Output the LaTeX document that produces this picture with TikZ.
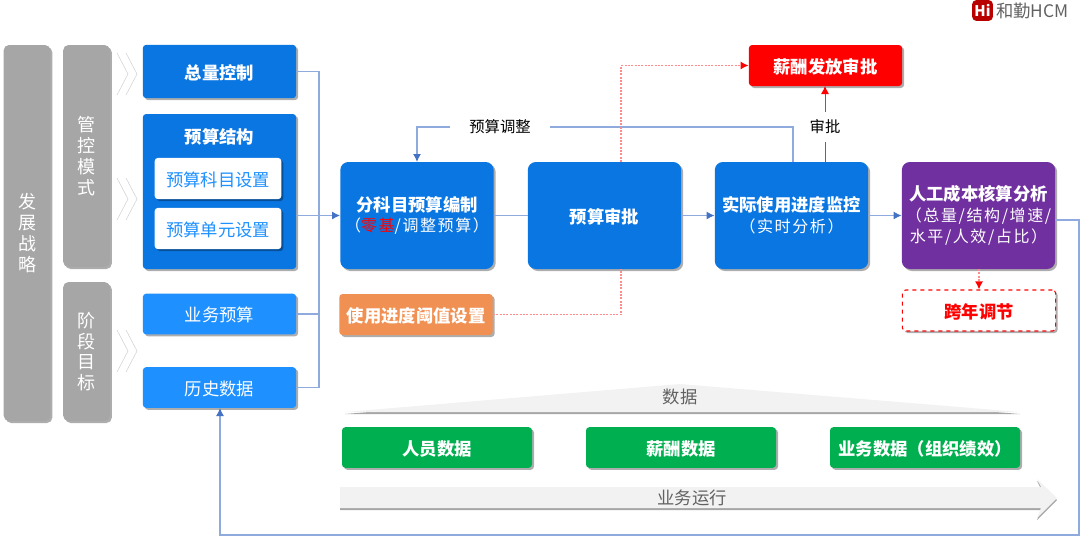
\documentclass[tikz,border=0pt]{standalone}
\usepackage{fontspec}
\setmainfont{Noto Sans CJK SC}
\newfontfamily\subfont[LetterSpace=10]{Noto Sans CJK SC}
\newcommand{\subtext}{\fontsize{12pt}{19pt}\subfont\mdseries}
\usetikzlibrary{arrows.meta,shadows,calc,positioning}

\definecolor{deepblue}{HTML}{0A76E2}
\definecolor{liteblue}{HTML}{1E90FF}
\definecolor{linkblue}{HTML}{8FAADC}
\definecolor{tipblue}{HTML}{4472C4}
\definecolor{paneorange}{HTML}{F09052}
\definecolor{panepurple}{HTML}{7030A0}
\definecolor{panegreen}{HTML}{00B050}

\begin{document}
\begin{tikzpicture}[
    x=0.75pt, y=-0.75pt,
    font=\fontsize{13pt}{16pt}\selectfont,
    boxshadow/.style    = {general shadow={shadow xshift=1.5pt, shadow yshift=-1.5pt,
                           fill=black, opacity=0.32}},
    panel/.style        = {rounded corners=2.5pt, inner sep=0pt, align=center,
                           text=white, boxshadow,
                           execute at begin node={\rule{0pt}{13pt}}},
    deep-box/.style     = {panel, fill=deepblue, font=\fontsize{13pt}{16pt}\selectfont\bfseries,
                           minimum width=115pt},
    lite-box/.style     = {panel, fill=liteblue, minimum width=115pt, minimum height=30.5pt},
    white-box/.style    = {panel, fill=white, text=liteblue, minimum width=95pt,
                           minimum height=31pt},
    step-box/.style     = {deep-box, rounded corners=6pt, minimum height=80.25pt},
    side-bar/.style     = {panel, rounded corners=4pt, fill=black!35, minimum width=35pt,
                           text=white, font=\fontsize{13.5pt}{15.6pt}\selectfont,
                           execute at begin node={}},
    data-box/.style     = {panel, fill=panegreen, font=\fontsize{13pt}{16pt}\selectfont\bfseries,
                           minimum width=142.5pt, minimum height=30.5pt},
    link/.style         = {draw=linkblue, line width=0.9pt},
    link-tip/.style     = {link, -{Latex[length=6pt,width=6pt,color=tipblue]}},
    red-tip/.style      = {red!85, line width=0.6pt, -{Latex[length=6pt,width=6pt,color=red]}},
    dot-link/.style     = {draw=red!45, line width=1pt, dash pattern=on 1.5pt off 1pt},
    dot-tip/.style      = {dot-link, -{Latex[length=6pt,width=6pt,color=red]}},
    chevron/.style      = {draw=black!18, line width=0.4pt},
    bandfill/.style     = {fill=black!5, general shadow={shadow yshift=-1.5pt, fill=black!35}},
    bandlabel/.style    = {text=black!62, inner sep=0pt}
  ]
\useasboundingbox (0,0) rectangle (1080,536);

% =========================================================
% Left columns
% =========================================================
\node[side-bar, minimum height=282pt] (strategy) at (27,233) {发\\展\\战\\略};
\node[side-bar, minimum height=166.5pt] (mode) at (86.5,156) {管\\控\\模\\式};
\node[side-bar, minimum height=104.25pt] (stage) at (86.5,351.5) {阶\\段\\目\\标};

% Double chevrons
\foreach \cy in {74,199,351} {
  \draw[chevron] (117,\cy-21) -- (128,\cy) -- (117,\cy+21);
  \draw[chevron] (126,\cy-21) -- (137,\cy) -- (126,\cy+21);
}

% =========================================================
% Budget inputs
% =========================================================
\node[deep-box, minimum height=40pt] (total) at (219.5,71.5) {总量控制};
\node[deep-box, minimum height=116.25pt] (structure) at (219.5,191.5) {};
\node[text=white, font=\fontsize{13pt}{16pt}\selectfont\bfseries] (structuretitle) at (219.5,137) {预算结构};
\node[white-box] (subjectset) at (218,178.5) {预算科目设置};
\node[white-box] (unitset) at (218,228.5) {预算单元设置};
\node[lite-box] (bizbudget) at (219.5,314) {业务预算};
\node[lite-box] (history) at (219.5,387.5) {历史数据};

% =========================================================
% Main process
% =========================================================
\node[step-box] (compile) at (417,215.5) {分科目预算编制\\[-0.5pt]
  {\subtext （\textcolor{red}{零基}/调整预算）}};
\node[step-box] (approve) at (604.5,215.5) {预算审批};
\node[step-box] (monitor) at (791.5,215.5) {实际使用进度监控\\[-0.5pt]
  {\subtext （实时分析）}};
\node[step-box, fill=panepurple] (analysis) at (978.5,215.5) {人工成本核算分析\\[0pt]
  {\subtext （总量/结构/增速/}\\[0pt]{\subtext 水平/人效/占比）}};
\node[deep-box, fill=red, minimum height=30.75pt] (payapprove) at (825.5,65.5) {薪酬发放审批};
\node[deep-box, fill=paneorange, minimum height=30.75pt] (threshold) at (416,314.5) {使用进度阈值设置};
\node[panel, fill=white, draw=red, dashed, line width=0.8pt, text=red,
      font=\fontsize{13pt}{16pt}\selectfont\bfseries,
      minimum width=115pt, minimum height=30.75pt] (carryover) at (979,310.5) {跨年调节};

\node[minimum width=75pt, minimum height=20pt, inner sep=0pt, font=\fontsize{11.5pt}{14pt}\selectfont] (adjust) at (500,127) {预算调整};
\node[minimum height=22.5pt, inner sep=0pt, font=\fontsize{11.5pt}{14pt}\selectfont] (audit) at (825,127) {审批};

% =========================================================
% Data and business bands
% =========================================================
\path[bandfill] (345,412) -- (680,384) -- (1020,412) -- cycle;
\node[bandlabel] (datatitle) at (680,397) {数据};
\node[data-box] (staffdata) at (437,447.5) {人员数据};
\node[data-box] (paydata) at (681,447.5) {薪酬数据};
\node[data-box] (bizdata) at (925,447.5) {业务数据（组织绩效）};
\path[bandfill] (340,487) -- (1041,487) -- (1037,479) -- (1057,498)
  -- (1037,518) -- (1041,508) -- (340,508) -- cycle;
\node[bandlabel] (runtitle) at (692,498) {业务运行};

% =========================================================
% Logo
% =========================================================
\node[rounded corners=3pt, fill=red!72!black, text=white, inner sep=0pt,
      minimum width=15.5pt, minimum height=15.5pt,
      font=\fontsize{11pt}{11pt}\selectfont\bfseries] (logomark) at (982.5,10.5) {Hi};
\node[right=2pt of logomark, inner sep=0pt, text=black!62,
      font=\fontsize{13pt}{15pt}\selectfont] (logotext) {和勤HCM};

% =========================================================
% Connectors
% =========================================================
\coordinate (busbar) at (319,215);
\draw[link] (total.east) -| (busbar);
\draw[link] (history.east) -| (busbar);
\draw[link] (bizbudget.east) -- (bizbudget.east -| busbar);
\draw[link-tip] (structure.east |- compile.west) -- (compile.west);
\draw[link] (compile.east) -- (approve.west);
\draw[link-tip] (approve.east) -- (monitor.west);
\draw[link-tip] (monitor.east) -- (analysis.west);

\coordinate (adjustfrom) at (793,162);
\coordinate (adjustto) at (417,162);
\draw[link] (adjustfrom) |- (adjust.east);
\draw[link-tip] (adjust.west) -| (adjustto);

\coordinate (auditfrom) at (825,162);
\coordinate (auditto) at (825,86);
\draw[draw=red!85, line width=0.6pt] (auditfrom) -- (audit.south);
\draw[red-tip] (audit.north) -- (auditto);

\coordinate (gatelow) at (621,269);
\coordinate (gatehigh) at (621,162);
\draw[dot-link] (threshold.east) -| (gatelow);
\draw[dot-tip] (gatehigh) |- (payapprove.west);
\coordinate (carryfrom) at (979,269);
\draw[dot-tip] (carryfrom) -- (carryover.north);

\coordinate (returnfrom) at (1055,220);
\coordinate (returncorner) at (1079,535);
\coordinate (returnto) at (220,408);
\draw[link-tip] (returnfrom) -| (returncorner) -| (returnto);

\end{tikzpicture}
\end{document}
